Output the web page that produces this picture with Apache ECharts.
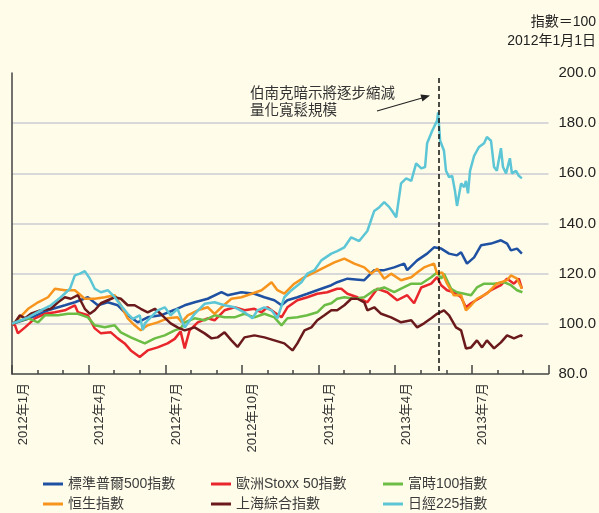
<!DOCTYPE html>
<html><head><meta charset="utf-8">
<script src="https://cdn.jsdelivr.net/npm/echarts@6/dist/echarts.min.js"></script>
<style>html,body{margin:0;padding:0;background:#fffce9}#c{width:599px;height:513px}</style>
</head><body><div id="c"></div>
<script>
// x values: months since 1 Jan 2012
const seriesNames = ['標準普爾500指數','歐洲Stoxx 50指數','富時100指數','恒生指數','上海綜合指數','日經225指數'];
const xTickLabels = ['2012年1月','2012年4月','2012年7月','2012年10月','2013年1月','2013年4月','2013年7月',''];
const yTicks = [80,100,120,140,160,180,200];
const eventMonth = 16.72; // 22 May 2013
const eventLineTop = 198;

const spx = [[0,100],[0.63,102],[1.41,105.4],[2.07,107.4],[2.46,108.6],[2.97,110.6],[3.36,107.4],[3.75,108.6],[4.14,107.4],[4.53,103.4],[4.92,100.6],[5.31,102.6],[5.82,103.4],[6.37,105.6],[6.76,107.4],[7.15,108.6],[7.66,110],[8.20,112.6],[8.44,111.4],[8.98,112.6],[9.49,112],[9.88,110.6],[10.27,109.4],[10.55,107.4],[10.78,109.4],[11.17,110.6],[11.56,112],[12.11,114],[12.50,115.4],[12.73,116.6],[13.13,118],[13.79,117.4],[14.18,121.4],[14.57,121.4],[14.96,122.5],[15.35,124],[15.47,121.4],[15.86,125.3],[16.25,128],[16.52,130.5],[16.80,130],[17.11,128],[17.42,127.3],[17.58,128.5],[17.81,124],[18.09,126.5],[18.36,131.3],[18.75,132],[19.14,133.3],[19.38,132],[19.53,129.3],[19.77,130],[19.96,128]];
const stoxx = [[0,100],[0.12,99.4],[0.23,96.2],[0.51,98.6],[0.90,102.2],[1.29,104],[1.68,104.6],[2.07,105.4],[2.46,107.4],[2.58,104.6],[2.97,103.4],[3.24,98.2],[3.48,96.2],[3.87,96.6],[4.14,94.2],[4.41,92.2],[4.65,89.4],[5.00,86.8],[5.31,89.4],[5.70,90.6],[6.09,92.2],[6.37,94.0],[6.60,97.0],[6.76,90.2],[6.95,97.4],[7.27,100.6],[7.66,102.2],[7.93,101.4],[8.32,105.4],[8.71,106.6],[9.10,105.4],[9.49,106],[9.77,104.6],[10.00,106.6],[10.27,104.6],[10.55,102.6],[10.78,106.6],[11.17,109.4],[11.56,110.6],[11.95,112],[12.34,112.6],[12.73,114],[12.89,114],[13.13,112],[13.52,110.6],[13.91,108.6],[14.30,114],[14.69,112.6],[15.08,109.4],[15.47,111.4],[15.74,108.2],[16.02,114.5],[16.41,116],[16.64,118.6],[16.80,115.4],[17.03,113.4],[17.30,112.6],[17.58,110.6],[17.77,106.6],[17.97,108.2],[18.36,110.6],[18.75,113.4],[19.14,115.4],[19.38,118],[19.65,116],[19.84,118],[19.96,114]];
const ftse = [[0,100],[0.12,100.6],[0.63,102.2],[1.02,100.6],[1.29,103.4],[1.80,103.4],[2.19,104],[2.58,104],[2.97,102.6],[3.24,99.4],[3.63,98.6],[4.02,99.4],[4.26,96.6],[4.65,94.6],[4.92,93.4],[5.20,92.2],[5.59,94.2],[5.98,95.4],[6.37,97.4],[6.60,98.2],[6.76,100.6],[7.15,102.2],[7.54,101.4],[7.93,103.4],[8.32,102.6],[8.71,102.6],[9.10,104],[9.49,102.6],[9.88,104],[10.27,102.6],[10.55,99.4],[10.78,102.2],[11.17,102.6],[11.56,103.4],[11.95,104.6],[12.23,107.4],[12.50,108.2],[12.73,110],[13.01,110.6],[13.40,110],[13.79,110.6],[14.18,113.4],[14.57,114.5],[14.96,112.6],[15.23,114],[15.63,116],[16.02,116],[16.41,118.6],[16.64,120.5],[16.80,118],[16.91,120],[17.19,114],[17.42,112.6],[17.70,112],[17.97,111.4],[18.20,114.5],[18.48,116],[18.87,116],[19.26,116.6],[19.53,115.4],[19.77,113.4],[19.98,112.6]];
const hsi = [[0,100],[0.12,100.6],[0.63,106],[1.02,108.6],[1.41,110.6],[1.68,114],[2.07,113.4],[2.46,113.4],[2.85,110],[3.24,110],[3.63,110.6],[4.02,111.4],[4.26,107.4],[4.53,102.2],[4.80,99.4],[5.04,97.4],[5.31,99.4],[5.70,100.6],[6.09,102.2],[6.48,102.6],[6.64,100.6],[6.88,103.4],[7.27,105.4],[7.66,106.6],[7.93,104],[8.20,106.6],[8.59,110],[8.98,110.6],[9.38,112],[9.77,113.4],[10.16,116.6],[10.39,113.4],[10.66,112],[11.05,116],[11.45,118.6],[11.84,120.5],[12.23,122.5],[12.62,124.5],[13.01,126],[13.40,124],[13.79,122.5],[14.06,120],[14.30,122],[14.57,118],[14.84,120],[15.23,117.4],[15.63,118.6],[15.86,120.5],[16.13,122.5],[16.52,124],[16.64,120],[16.84,120.5],[17.03,116],[17.30,111.4],[17.58,111.4],[17.77,105.4],[17.97,107.4],[18.20,110],[18.59,112],[18.98,116],[19.38,117.4],[19.53,119.3],[19.77,118],[19.96,114]];
const sse = [[0,100],[0.12,100.6],[0.31,103.4],[0.51,102.2],[0.74,104],[1.13,105.4],[1.52,106],[1.80,108.6],[2.07,110.6],[2.30,110],[2.58,111.4],[2.85,106],[3.05,104],[3.24,105.4],[3.48,108.2],[3.75,109.4],[4.02,110.6],[4.26,110],[4.53,107.4],[4.80,107.4],[5.04,106],[5.31,104.6],[5.59,106],[5.82,104],[6.21,100.2],[6.48,98.6],[6.76,97.4],[7.15,98.6],[7.54,96.2],[7.81,94.2],[8.05,94.6],[8.32,96.6],[8.59,93.4],[8.83,90.8],[9.10,94.6],[9.49,95.4],[9.88,94.6],[10.27,93.4],[10.66,92.2],[10.98,89.4],[11.17,92.2],[11.45,97.4],[11.72,98.6],[11.95,101.4],[12.23,103.4],[12.50,105.4],[12.73,105.4],[13.01,107.4],[13.28,110],[13.52,110],[13.79,108.6],[13.91,105.4],[14.18,106.6],[14.45,104],[14.84,102.6],[15.23,100.6],[15.63,101.4],[15.86,98.6],[16.13,100.2],[16.41,102.2],[16.64,104],[16.91,105.4],[17.11,103.4],[17.38,98.6],[17.58,97.4],[17.77,90.2],[17.97,90.6],[18.20,93.4],[18.40,90.6],[18.59,93.4],[18.87,90.2],[19.14,92.6],[19.38,95.4],[19.65,94.2],[19.92,95.4],[19.98,95]];
const nikkei = [[0,100],[0.12,100.6],[0.63,102.6],[1.13,105.4],[1.52,107.4],[1.91,110.6],[2.27,114],[2.46,119.3],[2.66,120],[2.85,121],[3.05,118],[3.24,114],[3.48,112.6],[3.75,113.4],[4.02,110.6],[4.26,107.4],[4.53,104],[4.73,102],[5.00,103.4],[5.12,97.5],[5.20,100.2],[5.39,102.2],[5.70,105.4],[5.98,106.6],[6.21,103.4],[6.48,106],[6.76,98.5],[7.15,104],[7.54,108],[7.93,108.6],[8.32,107.4],[8.71,106.6],[9.10,104.6],[9.41,102.2],[9.61,105.4],[9.88,106.6],[10.16,105.4],[10.39,102.2],[10.66,110.6],[10.94,113.4],[11.33,116.6],[11.56,120],[11.84,121.4],[12.11,125.3],[12.50,128],[12.73,129],[13.01,130.5],[13.28,134.5],[13.59,133],[13.91,137],[14.18,145],[14.38,146.5],[14.57,148.5],[14.77,146.5],[14.88,145],[15.04,142.5],[15.23,156],[15.43,158],[15.63,157],[15.82,164],[16.02,162],[16.17,162.5],[16.25,172],[16.45,177],[16.64,181],[16.68,184.3],[16.76,173],[16.91,169],[16.99,161],[17.11,158.5],[17.23,159],[17.34,153],[17.42,147],[17.58,156],[17.70,154.5],[17.77,157],[17.85,152],[17.93,161],[18.09,167],[18.28,170.5],[18.48,172],[18.59,174.5],[18.75,173],[18.87,162.5],[18.98,161],[19.14,170],[19.22,162.5],[19.34,160],[19.49,166],[19.57,160],[19.73,161],[19.84,159],[19.96,158]];

const colors = ['#1f51a3','#e8262b','#6cbd45','#f7941d','#6b1a1c','#5cc6d6'];
const dataSets = [spx, stoxx, ftse, hsi, sse, nikkei];
const FONT = "'Liberation Sans','Noto Sans CJK TC',sans-serif";

const chart = echarts.init(document.getElementById('c'), null, {renderer:'canvas'});
const series = dataSets.map((d,i)=>({
  name: seriesNames[i], type:'line', data:d, showSymbol:false, symbol:'none',
  xAxisIndex:0, yAxisIndex:0,
  lineStyle:{width:2.5,color:colors[i]}, itemStyle:{color:colors[i]}
}));
series[5].markLine = {
  silent:true, symbol:['none','none'], label:{show:false},
  lineStyle:{type:[5,3],color:'#111',width:1.5},
  data:[[{xAxis:eventMonth,yAxis:eventLineTop},{xAxis:eventMonth,yAxis:yTicks[0]}]]
};
const legendText = {fontSize:14,color:'#3c3c3c',fontFamily:FONT,lineHeight:16};
function mkLegend(left, names){
  return {orient:'vertical',left:left,top:476,height:60,padding:0,itemGap:4,itemWidth:20,itemHeight:3,icon:'rect',
    textStyle:legendText,data:names,selectedMode:false};
}
chart.setOption({
  backgroundColor:'#fffce9',
  animation:false,
  textStyle:{fontFamily:FONT},
  grid:{left:12,right:49,top:73,bottom:139,containLabel:false},
  legend:[mkLegend(43,[seriesNames[0],seriesNames[3]]),mkLegend(211,[seriesNames[1],seriesNames[4]]),mkLegend(383,[seriesNames[2],seriesNames[5]])],
  xAxis:[
    {type:'value',min:0,max:21,interval:1,position:'bottom',
     axisLine:{show:true,onZero:false,lineStyle:{color:'#444',width:1.5}},
     axisTick:{show:true,inside:true,length:4,lineStyle:{color:'#444',width:1.5}},
     axisLabel:{show:false},splitLine:{show:false}},
    {type:'value',min:0,max:21,interval:3,position:'bottom',
     axisLine:{show:false,onZero:false},
     axisTick:{show:true,inside:true,length:9,lineStyle:{color:'#444',width:1.5}},
     axisLabel:{show:true,rotate:90,margin:9,fontSize:13,color:'#333',fontFamily:FONT,
       verticalAlign:'top',lineHeight:22,
       formatter:v=>xTickLabels[Math.round(v/3)]||''},
     splitLine:{show:false}}
  ],
  yAxis:{type:'value',position:'right',min:yTicks[0],max:yTicks[yTicks.length-1],interval:20,
    axisLine:{show:true,lineStyle:{color:'#444',width:1.5}},
    axisTick:{show:false},
    axisLabel:{margin:10,fontSize:15,color:'#222',fontFamily:FONT,formatter:v=>v.toFixed(1)},
    splitLine:{show:true,lineStyle:{width:2,color:['rgba(0,0,0,0)','#d8d8d8','#d8d8d8','#d8d8d8','#d8d8d8','#d8d8d8','rgba(0,0,0,0)']}}},
  series:series,
  graphic:[
    {type:'text',x:596,y:22,style:{text:'指數＝100',font:"14px "+FONT,fill:'#222',textAlign:'right',textVerticalAlign:'middle'}},
    {type:'text',x:596,y:41,style:{text:'2012年1月1日',font:"14px "+FONT,fill:'#222',textAlign:'right',textVerticalAlign:'middle'}},
    {type:'text',x:250,y:94,style:{text:'伯南克暗示將逐步縮減',font:"14.5px "+FONT,fill:'#333',textVerticalAlign:'middle'}},
    {type:'text',x:250,y:111,style:{text:'量化寬鬆規模',font:"14.5px "+FONT,fill:'#333',textVerticalAlign:'middle'}},
    {type:'line',shape:{x1:377,y1:111,x2:422,y2:98},style:{stroke:'#222',lineWidth:1.2}},
    {type:'polygon',shape:{points:[[430,95.5],[422.4,101.4],[420.4,94.6]]},style:{fill:'#222'}}
  ]
});
</script></body></html>
